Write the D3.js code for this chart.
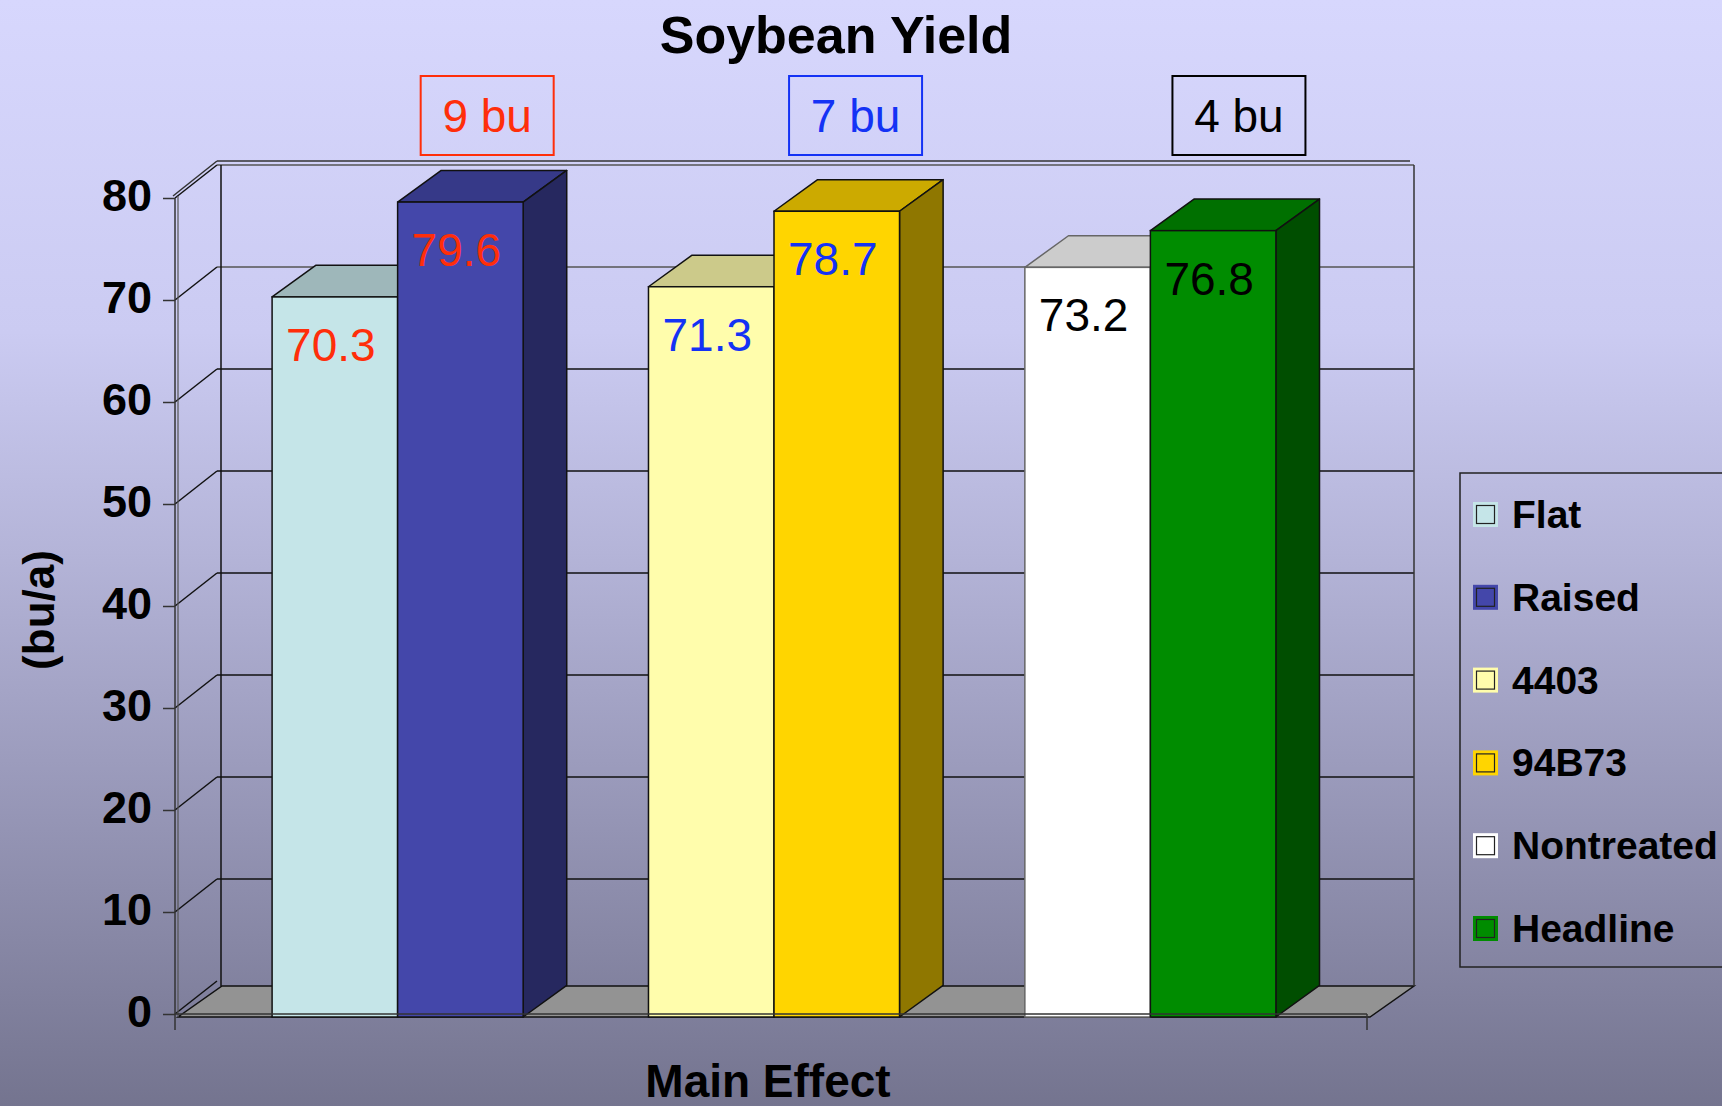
<!DOCTYPE html>
<html>
<head>
<meta charset="utf-8">
<script src="https://d3js.org/d3.v7.min.js"></script>
<style>
  html, body { margin: 0; padding: 0; }
  body { width: 1722px; height: 1106px; overflow: hidden; }
  text { font-family: "Liberation Sans", Arial, sans-serif; }
</style>
</head>
<body>
<script>
var seriesNames = ["Flat", "Raised", "4403", "94B73", "Nontreated", "Headline"];
var yields = [70.3, 79.6, 71.3, 78.7, 73.2, 76.8];
var seriesColors = ["#C5E5E8", "#4447AA", "#FFFDAC", "#FFD500", "#FFFFFF", "#008C00"];
var groups = ["Bed", "Variety", "Fungicide"];
var groupOf = [0, 0, 1, 1, 2, 2];
var diffLabels = ["9 bu", "7 bu", "4 bu"];
var groupColors = ["#FF2E0A", "#1432F5", "#000000"];
var yTicks = [0, 10, 20, 30, 40, 50, 60, 70, 80];

var W = 1722, H = 1106;
var depth = { x: 46, y: -33 };     // wall depth
var barDepth = { x: 43.6, y: -31.6 };
var floorY = 1017;

var svg = d3.select('body')
  .append('svg')
  .attr('width', W)
  .attr('height', H);

var defs = svg.append('defs');
var grad = defs.append('linearGradient')
  .attr('id', 'bg')
  .attr('x1', 0).attr('y1', 0).attr('x2', 0).attr('y2', 1);
[[0, "#D7D7FD"], [0.3, "#CBCBF2"], [0.5, "#B4B4D8"], [0.75, "#9494B4"], [1, "#74748F"]].forEach(function(s) {
  grad.append('stop').attr('offset', s[0]).attr('stop-color', s[1]);
});

svg.append('rect')
  .attr('width', W)
  .attr('height', H)
  .attr('fill', 'url(#bg)');

var y = d3.scaleLinear()
  .domain([0, 80])
  .range([1014, 198]);

var x0 = d3.scaleBand()
  .domain(groups)
  .range([178, 1370])
  .paddingInner(0.333)
  .paddingOuter(0.25);

var x1 = d3.scaleBand()
  .domain([0, 1])
  .range([0, x0.bandwidth()]);

function barX(i) {
  return x0(groups[groupOf[i]]) + x1(i % 2);
}

function shade(c, k) {
  var r = d3.rgb(c);
  return d3.rgb(r.r * k, r.g * k, r.b * k).formatHex();
}

var axisLeftX = 175;
var backLeft = axisLeftX + depth.x;
var backRight = 1370 + depth.x - 2;

// floor
svg.append('path')
  .attr('d', 'M' + 178 + ',' + floorY + 'L' + 1370 + ',' + floorY +
    'L' + backRight + ',' + (floorY + depth.y + 2) + 'L' + (backLeft + 1) + ',' + (floorY + depth.y + 2) + 'Z')
  .attr('fill', '#939393')
  .attr('stroke', '#111')
  .attr('stroke-width', 1.5);

// gridlines on back wall + side wall diagonals
var grid = svg.append('g');
yTicks.forEach(function(t) {
  var yy = y(t);
  if (t > 0) {
    grid.append('line')
      .attr('x1', backLeft - 4).attr('y1', yy + depth.y)
      .attr('x2', backRight).attr('y2', yy + depth.y)
      .attr('stroke', t >= 70 ? '#555' : '#111')
      .attr('stroke-width', 1.5);
  }
  grid.append('line')
    .attr('x1', axisLeftX).attr('y1', yy)
    .attr('x2', backLeft - 4).attr('y2', yy + depth.y)
    .attr('stroke', '#111')
    .attr('stroke-width', 1.5);
});

// wall frame
grid.append('line')
  .attr('x1', backLeft).attr('y1', y(80) + depth.y)
  .attr('x2', backLeft).attr('y2', floorY + depth.y + 2)
  .attr('stroke', '#111').attr('stroke-width', 1.5);
grid.append('line')
  .attr('x1', backRight).attr('y1', y(80) + depth.y)
  .attr('x2', backRight).attr('y2', floorY + depth.y + 2)
  .attr('stroke', '#333').attr('stroke-width', 1.5);
grid.append('line')
  .attr('x1', backLeft - 4).attr('y1', y(80) + depth.y - 4)
  .attr('x2', backRight - 4).attr('y2', y(80) + depth.y - 4)
  .attr('stroke', '#333').attr('stroke-width', 1.5);
grid.append('line')
  .attr('x1', axisLeftX - 2).attr('y1', y(80) - 2)
  .attr('x2', backLeft - 4).attr('y2', y(80) + depth.y - 4)
  .attr('stroke', '#333').attr('stroke-width', 1.5);

// bars
var bars = svg.selectAll('g.bar')
  .data(yields)
  .enter()
  .append('g')
  .attr('class', 'bar');

bars.each(function(v, i) {
  var g = d3.select(this);
  var bx = barX(i);
  var bw = x1.bandwidth();
  var top = y(v);
  var col = seriesColors[i];
  var stroke = col === "#FFFFFF" ? '#666' : '#111';

  // top face
  g.append('path')
    .attr('d', 'M' + bx + ',' + top + 'L' + (bx + barDepth.x) + ',' + (top + barDepth.y) +
      'L' + (bx + bw + barDepth.x) + ',' + (top + barDepth.y) + 'L' + (bx + bw) + ',' + top + 'Z')
    .attr('fill', shade(col, 0.8))
    .attr('stroke', stroke)
    .attr('stroke-width', 1.5)
    .attr('stroke-linejoin', 'round');

  // side face
  g.append('path')
    .attr('d', 'M' + (bx + bw) + ',' + top + 'L' + (bx + bw + barDepth.x) + ',' + (top + barDepth.y) +
      'L' + (bx + bw + barDepth.x) + ',' + (floorY + barDepth.y) + 'L' + (bx + bw) + ',' + floorY + 'Z')
    .attr('fill', shade(col, 0.56))
    .attr('stroke', stroke)
    .attr('stroke-width', 1.5)
    .attr('stroke-linejoin', 'round');

  // front face
  g.append('rect')
    .attr('x', bx)
    .attr('y', top)
    .attr('width', bw)
    .attr('height', floorY - top)
    .attr('fill', col)
    .attr('stroke', stroke)
    .attr('stroke-width', 1.5);
});

// value labels
bars.append('text')
  .attr('x', function(d, i) { return barX(i) + x1.bandwidth() / 2 - 4; })
  .attr('y', function(d) { return y(d) + 64; })
  .attr('text-anchor', 'middle')
  .style('font-size', '46px')
  .style('fill', function(d, i) { return groupColors[groupOf[i]]; })
  .text(function(d) { return d.toFixed(1); });

// y axis
var yAxis = d3.axisLeft(y)
  .tickValues(yTicks)
  .tickSize(12)
  .tickPadding(11)
  .tickSizeOuter(0);

var ax = svg.append('g')
  .attr('transform', 'translate(' + axisLeftX + ',0)')
  .call(yAxis);
ax.select('.domain').remove();
ax.selectAll('.tick line').attr('stroke', '#333').attr('stroke-width', 1.5);
ax.selectAll('.tick text')
  .attr('dy', '0.27em')
  .style('font-family', '"Liberation Sans", Arial, sans-serif')
  .style('font-size', '45px')
  .style('font-weight', 'bold')
  .style('fill', '#000');

svg.append('line')
  .attr('x1', axisLeftX).attr('y1', y(80))
  .attr('x2', axisLeftX).attr('y2', 1030)
  .attr('stroke', '#333').attr('stroke-width', 1.5);
svg.append('line')
  .attr('x1', axisLeftX + 3).attr('y1', y(80) - 2)
  .attr('x2', axisLeftX + 3).attr('y2', floorY)
  .attr('stroke', '#555').attr('stroke-width', 1.2);

// x axis line
svg.append('line')
  .attr('x1', axisLeftX).attr('y1', y(0))
  .attr('x2', 1367).attr('y2', y(0))
  .attr('stroke', '#333').attr('stroke-width', 1.5);
svg.append('line')
  .attr('x1', 1367).attr('y1', y(0))
  .attr('x2', 1367).attr('y2', 1030)
  .attr('stroke', '#333').attr('stroke-width', 1.5);

// difference boxes
var boxW = 133, boxH = 79;
var diffs = svg.selectAll('g.diff')
  .data(diffLabels)
  .enter()
  .append('g')
  .attr('class', 'diff')
  .attr('transform', function(d, i) {
    var cx = barX(i * 2 + 1) + x1.bandwidth() / 2 + barDepth.x / 2 + (i === 0 ? 5 : i === 2 ? 4 : -3);
    return 'translate(' + (cx - boxW / 2) + ',76)';
  });
diffs.append('rect')
  .attr('width', boxW)
  .attr('height', boxH)
  .attr('fill', 'none')
  .attr('stroke', function(d, i) { return groupColors[i]; })
  .attr('stroke-width', 2);
diffs.append('text')
  .attr('x', boxW / 2)
  .attr('y', 56)
  .attr('text-anchor', 'middle')
  .style('font-size', '46px')
  .style('fill', function(d, i) { return groupColors[i]; })
  .text(function(d) { return d; });

// title + axis titles
svg.append('text')
  .attr('x', 836)
  .attr('y', 53)
  .attr('text-anchor', 'middle')
  .style('font-size', '52px')
  .style('font-weight', 'bold')
  .text('Soybean Yield');

svg.append('text')
  .attr('x', 768)
  .attr('y', 1097)
  .attr('text-anchor', 'middle')
  .style('font-size', '46px')
  .style('font-weight', 'bold')
  .text('Main Effect');

svg.append('text')
  .attr('transform', 'translate(54,610) rotate(-90)')
  .attr('text-anchor', 'middle')
  .style('font-size', '44px')
  .style('font-weight', 'bold')
  .text('(bu/a)');

// legend
var legend = svg.append('g')
  .attr('transform', 'translate(1460,473)');
legend.append('rect')
  .attr('width', 290)
  .attr('height', 494)
  .attr('fill', 'none')
  .attr('stroke', '#222')
  .attr('stroke-width', 1.5);

var items = legend.selectAll('g.item')
  .data(seriesNames)
  .enter()
  .append('g')
  .attr('class', 'item')
  .attr('transform', function(d, i) { return 'translate(14,' + (30 + i * 82.8) + ')'; });
items.append('rect')
  .attr('width', 23)
  .attr('height', 23)
  .attr('fill', function(d, i) { return seriesColors[i]; })
  .attr('stroke', function(d, i) { return seriesColors[i]; })
  .attr('stroke-width', 2);
items.append('rect')
  .attr('x', 2.5).attr('y', 2.5)
  .attr('width', 18)
  .attr('height', 18)
  .attr('fill', 'none')
  .attr('stroke', '#222')
  .attr('stroke-width', 1.2);
items.append('text')
  .attr('x', 38)
  .attr('y', 25)
  .style('font-size', '39px')
  .style('font-weight', 'bold')
  .text(function(d) { return d; });
</script>
</body>
</html>
